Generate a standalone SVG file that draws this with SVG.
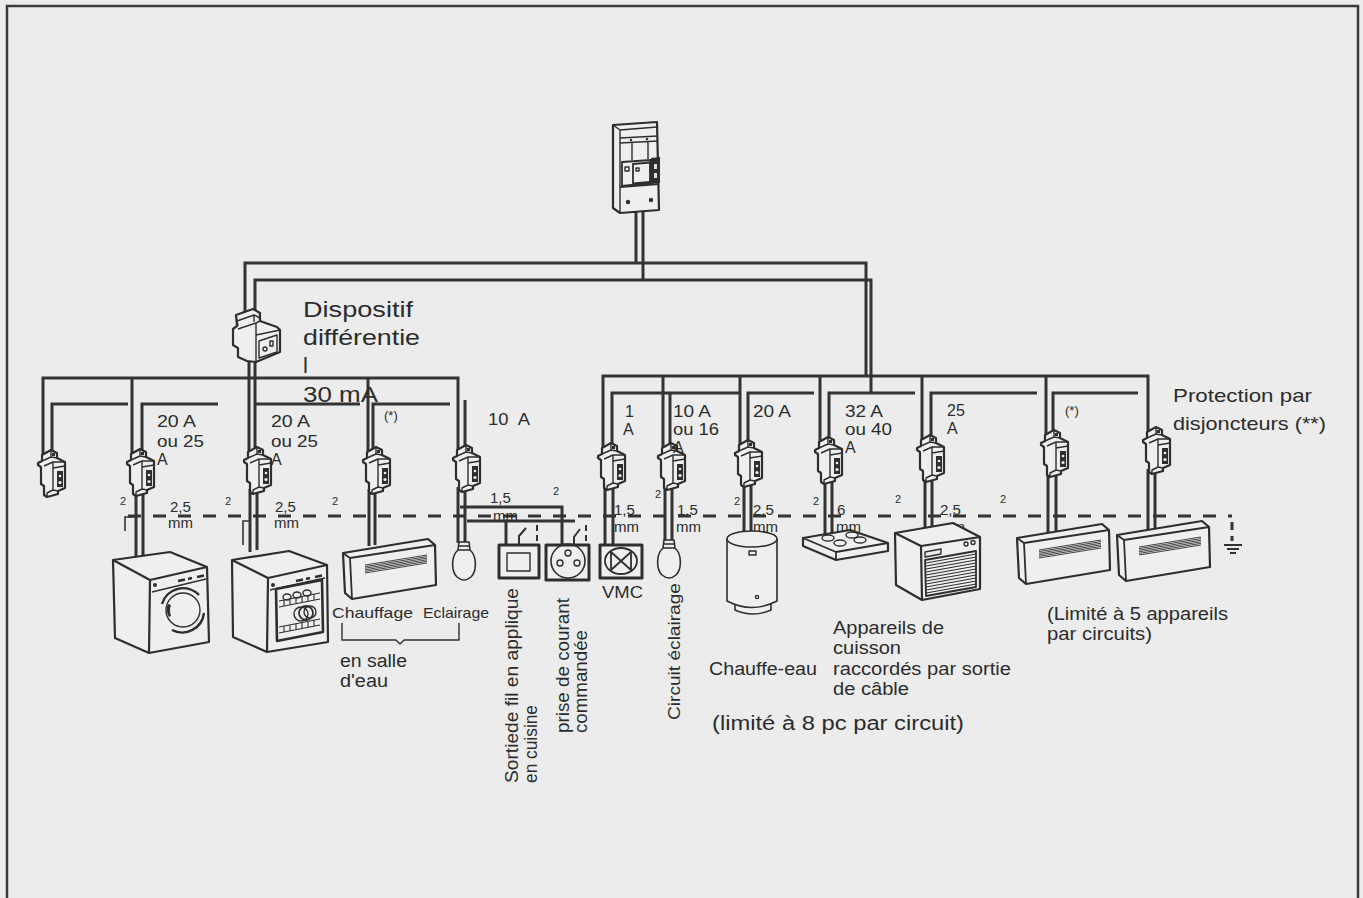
<svg xmlns="http://www.w3.org/2000/svg" xmlns:xlink="http://www.w3.org/1999/xlink" width="1363" height="898" viewBox="0 0 1363 898">
<style>
.bg{fill:#ebeceb}
.frame{fill:none;stroke:#3b3b3b;stroke-width:2.5}
.w{fill:none;stroke:#333;stroke-width:3}
.wt{fill:none;stroke:#333;stroke-width:1.6}
.dash{fill:none;stroke:#333;stroke-width:3;stroke-dasharray:13 12}
.o{fill:#eeefee;stroke:#2e2e2e;stroke-width:2.2;stroke-linejoin:round}
.o2{fill:none;stroke:#2e2e2e;stroke-width:1.4;stroke-linejoin:round}
.k{fill:#2e2e2e}
.t{font-family:"Liberation Sans",Arial,Helvetica,sans-serif;fill:#2c2c2c}
.a{font-size:16px}
.g{font-size:15px}
.s{font-size:11px}
.l{font-size:17.5px}
.big{font-size:22px}
</style>
<defs>
  <!-- modular circuit breaker, 28 x 47 -->
  <g id="brk">
    <path class="o" d="M4,5 L13,0 L19,3 L19,8 L27,12 L27,38 L20,41 L20,44 L9,47 L6,45 L6,36 L3,34 L3,17 L0,15 L0,13 L4,11 Z"/>
    <path class="o2" d="M4,11 L13,7 L19,8 M13,7 L13,1 M6,16 L15,12 L27,12 M15,12 L15,40 L20,41 M9,47 L9,43 L15,40 M15,18 L27,16"/>
    <rect x="19" y="21" width="6" height="16" class="k"/>
    <circle cx="22" cy="26" r="1.3" fill="#eee"/>
    <circle cx="22" cy="32.5" r="1.6" fill="#eee"/>
    <rect x="14" y="3" width="3" height="3" class="k"/>
  </g>
  <!-- wall convector heater, 93 x 60 -->
  <g id="heater">
    <path class="o" d="M0,14 L85,0 L92,6 L93,46 L9,60 L2,54 Z"/>
    <path class="o2" style="stroke-width:1.8" d="M0,14 L7,19 L92,6 M7,19 L9,60"/>
    <path class="o2" style="stroke-width:0.9" d="M22,26 L84,16 M22,27.6 L84,17.6 M22,29.2 L84,19.2 M22,30.8 L84,20.8 M22,32.4 L84,22.4 M22,34 L84,24"/>
  </g>
  <!-- light bulb, top centre at origin -->
  <g id="bulb">
    <path class="o" style="stroke-width:1.6" d="M-5,0 L5,0 L6,8 C13,14 13,29 7,35 Q0,41 -7,35 C-13,29 -13,14 -6,8 Z"/>
    <path class="o2" d="M-6,8 L6,8 M-5,4 L5,4"/>
  </g>
</defs>

<rect class="bg" x="0" y="0" width="1363" height="898"/>
<path class="frame" d="M7,898 V6 H1358 V898"/>

<g id="connectors">
  <!-- supply from the panel -->
  <path class="w" d="M636,212 V263 M643,212 V280"/>
  <path class="w" d="M245,316 V263 H866 V376"/>
  <path class="w" d="M255,318 V280 H871 V393"/>
  <!-- RCD outputs -->
  <path class="w" d="M249,360 V452 M255,360 V452 M255,404 H360"/>
  <!-- left group bus -->
  <path class="w" d="M43,454 V378 H458 V449 M132,378 V453 M368,378 V451"/>
  <path class="w" d="M52,454 V404 H128 M142,453 V404 H218 M373,451 V404 H450 M465,449 V400"/>
  <!-- right group bus -->
  <path class="w" d="M603,447 V376 H1148 V431 M663,447 V376 M740,444 V376 M820,441 V376 M922,439 V376 M1046,434 V376"/>
  <path class="w" d="M612,447 V393 H739 M670,447 V393 M748,444 V393 H814 M829,441 V393 H915 M931,439 V393 H1037 M1053,434 V393 H1138"/>
  <!-- drops to the loads -->
  <path class="w" d="M136,492 V557 M143,492 V555"/>
  <path class="w" d="M250,489 V552 M257,489 V550"/>
  <path class="w" d="M369,489 V546 M375,489 V545"/>
  <path class="w" d="M458,487 V543 M465,487 V543"/>
  <path class="w" d="M460,507 H562 V545 M467,521 H575 M506,521 V545"/>
  <path class="wt" style="stroke-width:2" d="M519,545 V536 L526,528 M537,525 V531 M537,535 V541 M574,545 V537 L580,529 M586,525 V531 M586,535 V541"/>
  <path class="w" d="M605,485 V545 M613,485 V545"/>
  <path class="w" d="M665,485 V541 M672,485 V541"/>
  <path class="w" d="M744,482 V531 M751,482 V531"/>
  <path class="w" d="M825,479 V538 M832,479 V536"/>
  <path class="w" d="M925,477 V535 M932,477 V533"/>
  <path class="w" d="M1048,472 V538 M1056,472 V536"/>
  <path class="w" d="M1148,469 V532 M1155,469 V530"/>
  <!-- protective earth conductor -->
  <path class="wt" d="M134,517 H125 V531 M250,521 H243 V545"/>
  <path class="dash" d="M128,516 H1232"/>
  <path class="w" style="stroke-dasharray:8 6" d="M1232,522 V541"/>
  <path class="w" style="stroke-width:2.2" d="M1224,545 H1242 M1227,549 H1239 M1230,553 H1236"/>
</g>

<g id="main-panel">
  <path class="o" d="M613,125 L657,122 L659,210 L620,213 L613,208 Z"/>
  <path class="o2" d="M613,125 L620,130 L657,127 M620,130 L620,213"/>
  <path class="o2" d="M620,138 L658,136 M620,143 L658,141 M632,143 V160 M648,142 V159"/>
  <circle cx="631" cy="140" r="1.2" class="k"/>
  <circle cx="647" cy="139" r="1.2" class="k"/>
  <path class="o2" style="stroke-width:1.8" d="M620,187 L659,184 M622,162 L651,160 L651,183 L622,186 Z M633,164 L650,162.5 L650,182 L633,183.5 Z"/>
  <rect x="625" y="167" width="4" height="4" class="o2"/>
  <rect x="636" y="168" width="3" height="3" class="o2"/>
  <path class="k" d="M651,158 L660,157 L660,183 L651,184 Z"/>
  <rect x="654" y="164" width="3" height="5" fill="#ddd"/>
  <rect x="654" y="173" width="3" height="5" fill="#ddd"/>
  <circle cx="628" cy="202" r="2.2" class="k"/>
  <circle cx="651" cy="200" r="2.2" class="k"/>
</g>

<g id="rcd">
  <path class="o" d="M236,315 L253,309 L260,313 L260,321 L277,327 L280,330 L280,352 L256,362 L247,361 L238,357 L238,348 L233,345 L233,329 L237,326 Z"/>
  <path class="o2" d="M236,315 L237,321 L254,315 L260,318 M237,321 L238,326 M254,315 L254,322 M238,329 L256,323 L260,321 M256,323 L256,335 L280,330 M256,335 L256,362"/>
  <path class="o2" d="M259,341 L277,335 L277,352 L259,358 Z"/>
  <circle cx="265" cy="349" r="2" class="o2"/>
  <rect x="270" y="341" width="3" height="5" class="o2"/>
  <text class="t big" x="303" y="317" textLength="110" lengthAdjust="spacingAndGlyphs">Dispositif</text>
  <text class="t big" x="303" y="345" textLength="117" lengthAdjust="spacingAndGlyphs">différentie</text>
  <text class="t big" x="303" y="373">l</text>
  <text class="t big" x="303" y="402" textLength="75" lengthAdjust="spacingAndGlyphs">30 mA</text>
</g>

<g id="breakers-left">
  <use xlink:href="#brk" x="38" y="450"/>
  <use xlink:href="#brk" x="127" y="449"/>
  <use xlink:href="#brk" x="244" y="447"/>
  <use xlink:href="#brk" x="363" y="447"/>
  <use xlink:href="#brk" x="453" y="445"/>
  <text class="t a" x="157" y="427" textLength="39" lengthAdjust="spacingAndGlyphs">20 A</text>
  <text class="t a" x="157" y="447" textLength="47" lengthAdjust="spacingAndGlyphs">ou 25</text>
  <text class="t a" x="157" y="465">A</text>
  <text class="t a" x="271" y="427" textLength="39" lengthAdjust="spacingAndGlyphs">20 A</text>
  <text class="t a" x="271" y="447" textLength="47" lengthAdjust="spacingAndGlyphs">ou 25</text>
  <text class="t a" x="271" y="465">A</text>
  <text class="t" font-size="13" x="384" y="420">(*)</text>
  <text class="t a" x="488" y="425" style="white-space:pre" textLength="42" lengthAdjust="spacingAndGlyphs">10  A</text>
</g>

<g id="breakers-right">
  <use xlink:href="#brk" x="598" y="443"/>
  <use xlink:href="#brk" x="658" y="443"/>
  <use xlink:href="#brk" x="735" y="440"/>
  <use xlink:href="#brk" x="815" y="437"/>
  <use xlink:href="#brk" x="917" y="435"/>
  <use xlink:href="#brk" x="1041" y="430"/>
  <use xlink:href="#brk" x="1143" y="427"/>
  <text class="t a" x="625" y="417">1</text>
  <text class="t a" x="623" y="435">A</text>
  <text class="t a" x="673" y="417" textLength="38" lengthAdjust="spacingAndGlyphs">10 A</text>
  <text class="t a" x="673" y="435" textLength="46" lengthAdjust="spacingAndGlyphs">ou 16</text>
  <text class="t a" x="673" y="453">A</text>
  <text class="t a" x="753" y="417" textLength="38" lengthAdjust="spacingAndGlyphs">20 A</text>
  <text class="t a" x="845" y="417" textLength="38" lengthAdjust="spacingAndGlyphs">32 A</text>
  <text class="t a" x="845" y="435" textLength="47" lengthAdjust="spacingAndGlyphs">ou 40</text>
  <text class="t a" x="845" y="453">A</text>
  <text class="t a" x="947" y="416">25</text>
  <text class="t a" x="947" y="434">A</text>
  <text class="t" font-size="13" x="1065" y="415">(*)</text>
  <text class="t" font-size="19" x="1173" y="402" textLength="139" lengthAdjust="spacingAndGlyphs">Protection par</text>
  <text class="t" font-size="19" x="1173" y="430" textLength="153" lengthAdjust="spacingAndGlyphs">disjoncteurs (**)</text>
</g>

<g id="wire-sections">
  <text class="t s" x="120" y="505">2</text>
  <text class="t s" x="225" y="505">2</text>
  <text class="t s" x="332" y="505">2</text>
  <text class="t s" x="553" y="495">2</text>
  <text class="t s" x="655" y="498">2</text>
  <text class="t s" x="734" y="505">2</text>
  <text class="t s" x="813" y="505">2</text>
  <text class="t s" x="895" y="503">2</text>
  <text class="t s" x="1000" y="503">2</text>
  <text class="t g" x="170" y="512">2,5</text>
  <text class="t g" x="168" y="528">mm</text>
  <text class="t g" x="275" y="512">2,5</text>
  <text class="t g" x="274" y="528">mm</text>
  <text class="t g" x="490" y="503">1,5</text>
  <text class="t g" x="493" y="521">mm</text>
  <text class="t g" x="614" y="515">1,5</text>
  <text class="t g" x="614" y="532">mm</text>
  <text class="t g" x="677" y="515">1,5</text>
  <text class="t g" x="676" y="532">mm</text>
  <text class="t g" x="753" y="515">2,5</text>
  <text class="t g" x="753" y="532">mm</text>
  <text class="t g" x="837" y="515">6</text>
  <text class="t g" x="836" y="532">mm</text>
  <text class="t g" x="940" y="515">2,5</text>
  <text class="t g" x="940" y="532">mm</text>
</g>

<g id="washing-machine">
  <path class="o" d="M113,560 L170,552 L207,567 L209,642 L149,653 L115,638 Z"/>
  <path class="o2" style="stroke-width:2.2" d="M113,560 L150,580 L207,567 M150,580 L149,653"/>
  <path class="o2" d="M152,592 L206,579"/>
  <circle cx="155" cy="585" r="2" class="k"/>
  <path class="o2" style="stroke-width:2.4" d="M178,581 L185,579.5 M188,579 L192,578 M197,577 L204,575.5"/>
  <circle cx="183" cy="610" r="17" class="o2"/>
  <path class="o2" style="stroke-width:2.4" d="M162,604 A22,22 0 0 1 199,595 M204,613 A22,22 0 0 1 172,630"/>
  <path class="k" d="M168,604 Q165,610 169,617 L171,616 Q169,610 171,605 Z"/>
</g>

<g id="dishwasher">
  <path class="o" d="M232,560 L289,551 L327,565 L328,642 L267,652 L233,637 Z"/>
  <path class="o2" style="stroke-width:2.2" d="M232,560 L268,578 L327,565 M268,578 L267,652"/>
  <path class="o2" d="M270,590 L325,578"/>
  <circle cx="273" cy="585" r="2" class="k"/>
  <path class="o2" style="stroke-width:2.4" d="M296,581 L303,579.5 M306,579 L310,578 M315,577 L322,575.5"/>
  <path class="o" style="stroke-width:2.6" d="M276,589 L322,580 L323,632 L277,641 Z"/>
  <path class="o2" style="stroke-width:1.1" d="M279,601 L320,593 M279,607 L320,599 M284,600 V606 M290,599 V605 M296,597.7 V603.7 M302,596.5 V602.5 M308,595.3 V601.3 M314,594.2 V600.2 M279,627 L320,619 M279,633 L320,625 M284,626 V632 M290,625 V631 M296,623.7 V629.7 M302,622.5 V628.5 M308,621.3 V627.3 M314,620.2 V626.2"/>
  <ellipse cx="287" cy="597" rx="4" ry="3" class="o2"/>
  <ellipse cx="297" cy="595" rx="4" ry="3" class="o2"/>
  <ellipse cx="307" cy="593" rx="4" ry="3" class="o2"/>
  <circle cx="301" cy="614" r="7" class="o2"/>
  <circle cx="306" cy="613" r="7" class="o2" style="stroke-width:1.8"/>
  <circle cx="310" cy="612" r="6" class="o2"/>
</g>

<g id="bathroom-heater">
  <use xlink:href="#heater" x="343" y="539"/>
  <use xlink:href="#bulb" x="464" y="542"/>
  <text class="t" font-size="15" x="332" y="618" textLength="81" lengthAdjust="spacingAndGlyphs">Chauffage</text>
  <text class="t" font-size="15" x="423" y="618" textLength="66" lengthAdjust="spacingAndGlyphs">Eclairage</text>
  <path class="o2" d="M342,623 V640 H396 L400,644 L404,640 H459 V623"/>
  <text class="t" font-size="18" x="340" y="667" textLength="67" lengthAdjust="spacingAndGlyphs">en salle</text>
  <text class="t" font-size="18" x="340" y="687" textLength="48" lengthAdjust="spacingAndGlyphs">d'eau</text>
</g>

<g id="kitchen-outlet">
  <rect x="499" y="545" width="40" height="33" class="o" style="stroke-width:3"/>
  <rect x="507" y="553" width="23" height="18" class="o2"/>
  <text class="t" font-size="18" transform="translate(518,783) rotate(-90)" textLength="195" lengthAdjust="spacingAndGlyphs">Sortiede fil en applique</text>
  <text class="t" font-size="18" transform="translate(537,783) rotate(-90)" textLength="78" lengthAdjust="spacingAndGlyphs">en cuisine</text>
</g>

<g id="switched-socket">
  <rect x="546" y="545" width="43" height="35" class="o" style="stroke-width:3"/>
  <circle cx="568" cy="561" r="17" class="o2" style="stroke-width:1.6"/>
  <circle cx="568" cy="553" r="3" class="o2"/>
  <circle cx="560" cy="563" r="3" class="o2"/>
  <circle cx="577" cy="563" r="3" class="o2"/>
  <text class="t" font-size="18" transform="translate(569,733) rotate(-90)" textLength="135" lengthAdjust="spacingAndGlyphs">prise de courant</text>
  <text class="t" font-size="18" transform="translate(587,733) rotate(-90)" textLength="103" lengthAdjust="spacingAndGlyphs">commandée</text>
</g>

<g id="vmc">
  <rect x="600" y="545" width="42" height="33" class="o" style="stroke-width:3"/>
  <ellipse cx="621" cy="561" rx="16" ry="13" class="o2" style="stroke-width:1.8"/>
  <path class="o2" style="stroke-width:1.8" d="M611,552 V570 L631,552 V570 Z"/>
  <text class="t" font-size="17" x="602" y="598" textLength="41" lengthAdjust="spacingAndGlyphs">VMC</text>
</g>

<g id="lighting-circuit">
  <use xlink:href="#bulb" x="669" y="540"/>
  <text class="t" font-size="17" transform="translate(680,720) rotate(-90)" textLength="137" lengthAdjust="spacingAndGlyphs">Circuit éclairage</text>
</g>

<g id="water-heater">
  <path class="o" style="stroke-width:1.6" d="M735,604 V610 Q753,618 771,610 V604 Z"/>
  <path class="o" style="stroke-width:1.6" d="M727,539 V601 Q752,614 777,601 V539 Z"/>
  <ellipse cx="752" cy="539" rx="25" ry="8" class="o" style="stroke-width:1.6"/>
  <rect x="749" y="551" width="7" height="4" class="o2"/>
  <circle cx="757" cy="597" r="1.6" class="o2"/>
  <text class="t" font-size="18" x="709" y="675" textLength="108" lengthAdjust="spacingAndGlyphs">Chauffe-eau</text>
  <text class="t" font-size="20" x="712" y="730" textLength="252" lengthAdjust="spacingAndGlyphs">(limité à 8 pc par circuit)</text>
</g>

<g id="cooking">
  <path class="o" d="M803,538 L850,530 L888,543 L888,551 L836,560 L803,546 Z"/>
  <path class="o2" style="stroke-width:1.8" d="M803,538 L836,552 L888,543 M836,552 V560"/>
  <ellipse cx="828" cy="538" rx="6" ry="3" class="o2"/>
  <ellipse cx="852" cy="535" rx="6" ry="3" class="o2"/>
  <ellipse cx="840" cy="543" rx="6" ry="3" class="o2"/>
  <ellipse cx="860" cy="540" rx="6" ry="3" class="o2"/>
  <path class="o" d="M895,533 L953,523 L980,537 L980,589 L922,600 L896,585 Z"/>
  <path class="o2" style="stroke-width:2.2" d="M895,533 L921,546 L980,537 M921,546 L922,600"/>
  <path class="o2" d="M925,552 L941,549 L941,554 L925,557 Z"/>
  <circle cx="966" cy="544" r="2" class="o2"/>
  <circle cx="973" cy="542.5" r="2" class="o2"/>
  <path class="o" style="stroke-width:1.8" d="M925,560 L976,551 L976,587 L926,596 Z"/>
  <path class="o2" style="stroke-width:1.1" d="M926,563 L976,554 M926,566 L976,557 M926,569 L976,560 M926,572 L976,563 M926,575 L976,566 M926,578 L976,569 M926,581 L976,572 M926,584 L976,575 M926,587 L976,578 M926,590 L976,581 M926,593 L976,584"/>
  <text class="t l" x="833" y="634" textLength="111" lengthAdjust="spacingAndGlyphs">Appareils de</text>
  <text class="t l" x="833" y="654" textLength="68" lengthAdjust="spacingAndGlyphs">cuisson</text>
  <text class="t l" x="833" y="675" textLength="178" lengthAdjust="spacingAndGlyphs">raccordés par sortie</text>
  <text class="t l" x="833" y="695" textLength="76" lengthAdjust="spacingAndGlyphs">de câble</text>
</g>

<g id="heaters">
  <use xlink:href="#heater" x="1017" y="524"/>
  <use xlink:href="#heater" x="1117" y="521"/>
  <text class="t l" x="1047" y="620" textLength="181" lengthAdjust="spacingAndGlyphs">(Limité à 5 appareils</text>
  <text class="t l" x="1047" y="640" textLength="105" lengthAdjust="spacingAndGlyphs">par circuits)</text>
</g>
</svg>
